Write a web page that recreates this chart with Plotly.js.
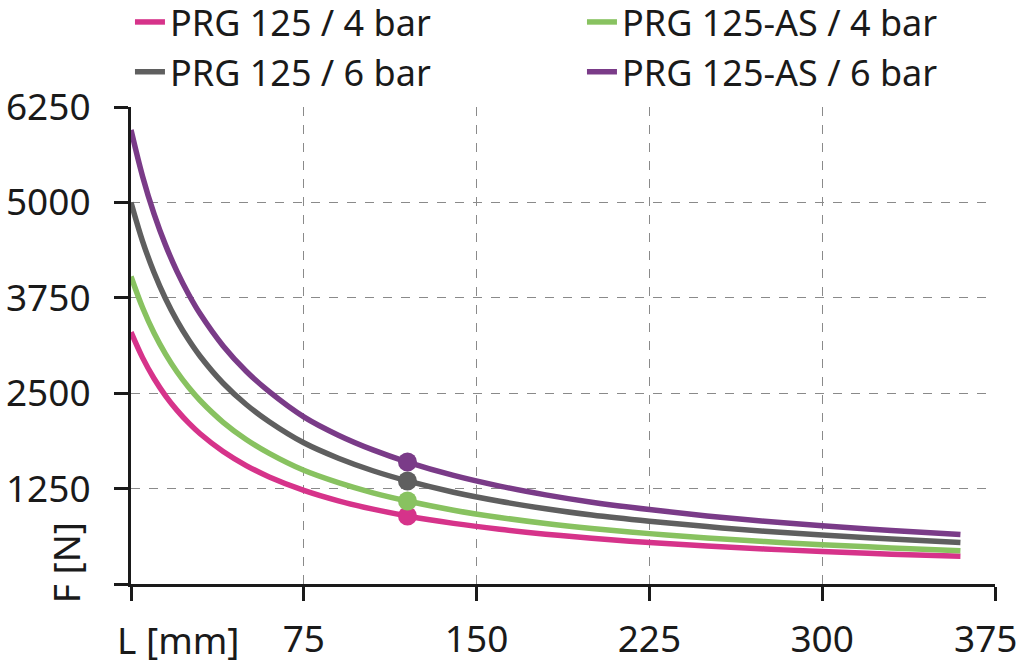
<!DOCTYPE html>
<html>
<head>
<meta charset="utf-8">
<script src="https://cdn.plot.ly/plotly-3.0.1.min.js"></script>
<style>html,body{margin:0;padding:0;background:#fff;}#chart{width:1024px;height:663px;}</style>
</head>
<body>
<div id="chart"></div>
<script>
// Stroke length L [mm]
const strokeL = [0, 5, 10, 15, 20, 25, 30, 40, 50, 60, 75, 90, 105, 120, 140, 160, 180, 200, 225, 250, 275, 300, 330, 360];
// Force F [N]
const prg125_4bar   = [3300, 2966, 2693, 2466, 2275, 2111, 1969, 1736, 1552, 1403, 1227, 1090, 981, 891, 794, 717, 653, 599, 544, 498, 459, 425, 391, 364];
const prg125as_4bar = [4030, 3623, 3289, 3012, 2778, 2577, 2404, 2119, 1894, 1712, 1490, 1328, 1195, 1087, 967, 872, 793, 728, 660, 603, 556, 515, 473, 436];
const prg125_6bar   = [5000, 4494, 4081, 3737, 3447, 3199, 2984, 2630, 2352, 2126, 1850, 1648, 1484, 1350, 1202, 1084, 987, 905, 823, 752, 692, 642, 590, 543];
const prg125as_6bar = [5950, 5344, 4850, 4440, 4093, 3797, 3540, 3119, 2788, 2520, 2190, 1950, 1757, 1598, 1423, 1283, 1168, 1072, 975, 892, 822, 762, 701, 647];
// Highlighted operating point
const markerL = [120];
const markerF = {pink: [891], green: [1087], gray: [1350], purple: [1598]};

const names = ["PRG 125 / 4 bar", "PRG 125-AS / 4 bar", "PRG 125 / 6 bar", "PRG 125-AS / 6 bar"];
const colors = ["#d6338a", "#88c260", "#5f5f5f", "#7a3b88"];
const series = [prg125_4bar, prg125as_4bar, prg125_6bar, prg125as_6bar];
const markers = [markerF.pink, markerF.green, markerF.gray, markerF.purple];

const xTicks = [0, 75, 150, 225, 300, 375];
const xTickText = ["", "75", "150", "225", "300", "375\u2002"];
const yTicks = [0, 1250, 2500, 3750, 5000, 6250];
const yTickText = ["", "1250", "2500", "3750", "5000", "6250"];

const FONT = "'Noto Sans', 'Open Sans', sans-serif";
const INK = "#1a1a1a";

const traces = [];
series.forEach((s, i) => {
  traces.push({
    x: strokeL, y: s, type: "scatter", mode: "lines", name: names[i],
    line: {color: colors[i], width: 5.5, shape: "spline", smoothing: 1},
    hoverinfo: "skip"
  });
});
series.forEach((s, i) => {
  traces.push({
    x: markerL, y: markers[i], type: "scatter", mode: "markers", showlegend: false,
    marker: {color: colors[i], size: 19}, hoverinfo: "skip"
  });
});

const layout = {
  width: 1024, height: 663,
  margin: {l: 131, r: 29, t: 107, b: 79, autoexpand: false},
  paper_bgcolor: "#fff", plot_bgcolor: "#fff",
  font: {family: FONT, color: INK, size: 36},
  showlegend: true,
  legend: {
    orientation: "h", x: -0.0012, xanchor: "left", y: 1.241, yanchor: "top",
    entrywidth: 407, entrywidthmode: "pixels",
    font: {family: FONT, size: 36, color: INK},
    bgcolor: "rgba(0,0,0,0)", tracegroupgap: 0, itemclick: false
  },
  xaxis: {
    range: [0, 375], tickmode: "array", tickvals: xTicks, ticktext: xTickText,
    showgrid: true, gridcolor: "#8a8a8a", griddash: "dash", gridwidth: 1,
    zeroline: false, showline: true, linecolor: INK, linewidth: 3,
    ticks: "outside", ticklen: 14, tickwidth: 3, tickcolor: INK,
    tickfont: {family: FONT, size: 37, color: INK}, ticklabelstandoff: 7,
    ticklabeloverflow: "allow",
    fixedrange: true
  },
  yaxis: {
    range: [0, 6250], tickmode: "array", tickvals: yTicks, ticktext: yTickText,
    showgrid: true, gridcolor: "#8a8a8a", griddash: "dash", gridwidth: 1,
    zeroline: false, showline: true, linecolor: INK, linewidth: 3,
    ticks: "outside", ticklen: 14, tickwidth: 3, tickcolor: INK,
    tickfont: {family: FONT, size: 37, color: INK}, ticklabelstandoff: 16,
    ticklabeloverflow: "allow",
    fixedrange: true
  },
  annotations: [
    {text: "L [mm]", xref: "paper", yref: "paper", x: -0.0185, xanchor: "left",
     y: -0.117, yanchor: "middle", showarrow: false, font: {family: FONT, size: 37, color: INK}},
    {text: "F [N]", xref: "paper", yref: "paper", x: -0.076, xanchor: "center",
     y: 0.044, yanchor: "middle", textangle: -90, showarrow: false, font: {family: FONT, size: 37, color: INK}}
  ]
};

Plotly.newPlot("chart", traces, layout, {staticPlot: true, displayModeBar: false});
</script>
</body>
</html>
